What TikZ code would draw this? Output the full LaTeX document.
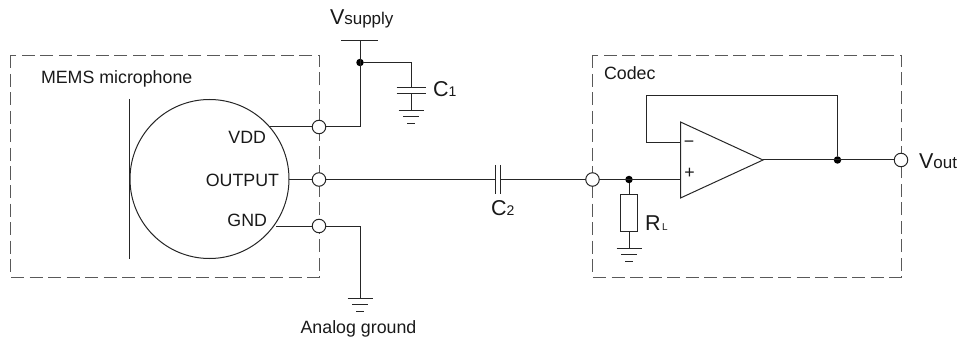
\documentclass[tikz,border=0pt]{standalone}
\usepackage{fontspec}
\setmainfont{Liberation Sans}
\usetikzlibrary{calc}
\newcommand{\gndsym}[1]{%
  \draw[wire] ($(#1)+(-12.5,0)$) -- ($(#1)+(12.5,0)$);
  \draw[wire] ($(#1)+(-8,6.5)$) -- ($(#1)+(8,6.5)$);
  \draw[wire] ($(#1)+(-4,13)$) -- ($(#1)+(4,13)$);
}
\tikzset{
  x=1pt,y=-1pt,
  wire/.style={line width=1pt,draw=black!85},
  boxline/.style={line width=1pt,draw=black!65,dash pattern=on 13pt off 5.5pt},
  pin/.style={circle,draw=black!85,line width=1pt,fill=white,minimum size=13.5pt,inner sep=0pt,outer sep=0pt},
  junction/.style={circle,fill=black,minimum size=7.5pt,inner sep=0pt,outer sep=0pt},
  lbl/.style={inner sep=0pt,outer sep=0pt,text=black!90,font=\fontsize{17.8}{20}\selectfont},
  big/.style={inner sep=0pt,outer sep=0pt,text=black!90,font=\fontsize{21.5}{23}\selectfont},
}
\newcommand{\subA}[1]{{\fontsize{17}{19}\selectfont #1}}
\newcommand{\subB}[1]{{\fontsize{14}{16}\selectfont #1}}
\begin{document}
\begin{tikzpicture}
\useasboundingbox (0,0) rectangle (964,342);
% boxes
\draw[boxline] (10.5,55.5) rectangle (319,277);
\draw[boxline] (592.5,55.5) rectangle (901,277);
% microphone
\node[circle,draw=black!85,line width=1pt,minimum size=159pt,inner sep=0pt,outer sep=0pt] (mic) at (209.5,179) {};
\coordinate (plateA) at (129.5,99);
\coordinate (plateB) at (129.5,259);
\draw[wire] (plateA) -- (plateB);
% anchor coordinates
\coordinate (vddS) at (269,127);
\coordinate (outS) at (289,179.5);
\coordinate (gndS) at (276,226);
\coordinate (vddC) at (360,127);
\coordinate (vtop) at (360,41);
\coordinate (vbarL) at (341,41);
\coordinate (vbarR) at (378,41);
\coordinate (c1T) at (411,62.5);
\coordinate (c1A) at (411,87.5);
\coordinate (c1B) at (411,94);
\coordinate (c1G) at (411,110.5);
\coordinate (gndC) at (360,226);
\coordinate (gnd1) at (360,298);
\coordinate (c2A) at (495.5,179.5);
\coordinate (c2B) at (500.5,179.5);
\coordinate (oa) at (680.5,179.5);
\coordinate (oaB) at (680.5,143);
\coordinate (fbA) at (646,143);
\coordinate (fbB) at (646,95.7);
\coordinate (fbC) at (837.5,95.7);
\coordinate (oaOut) at (763,160);
\coordinate (g3) at (629,248);
% op amp
\draw[wire,line join=miter] (680.5,122) -- (680.5,198) -- (oaOut) -- cycle;
% resistor
\node[rectangle,draw=black!85,line width=1pt,minimum width=17.5pt,minimum height=37pt,inner sep=0pt,outer sep=0pt] (rl) at (629,212.5) {};
% dots
\node[junction] (d1) at (360,62.5) {};
\node[junction] (d2) at (629,179.5) {};
\node[junction] (d3) at (837.5,160) {};
% wires
\draw[wire] (vddS) -- (vddC) -- (vtop);
\draw[wire] (vbarL) -- (vbarR);
\draw[wire] (d1) -- (c1T) -- (c1A);
\draw[wire] ($(c1A)+(-14.5,0)$) -- ($(c1A)+(14.5,0)$);
\draw[wire] ($(c1B)+(-14.5,0)$) -- ($(c1B)+(14.5,0)$);
\draw[wire] (c1B) -- (c1G);
\gndsym{c1G}
\draw[wire] (gndS) -- (gndC) -- (gnd1);
\gndsym{gnd1}
\draw[wire] (outS) -- (c2A);
\draw[wire] ($(c2A)+(0,-14.5)$) -- ($(c2A)+(0,14.5)$);
\draw[wire] ($(c2B)+(0,-14.5)$) -- ($(c2B)+(0,14.5)$);
\draw[wire] (c2B) -- (oa);
\draw[wire] (d2) -- (rl.north);
\draw[wire] (rl.south) -- (g3);
\gndsym{g3}
\draw[wire] (oaOut) -- (901,160);
\draw[wire] (d3) -- (fbC) -- (fbB) -- (fbA) -- (oaB);
% pins
\node[pin] (p1) at (319,127) {};
\node[pin] (p2) at (319,179.5) {};
\node[pin] (p3) at (319,226) {};
\node[pin] (p4) at (592.5,179.5) {};
\node[pin] (p5) at (901,160) {};
% signs
\node[lbl,anchor=center] (minus) at (689,144) {−};
\node[lbl,anchor=center] (plus) at (689.5,173.5) {+};
% labels
\node[lbl,anchor=base west] (mems) at (41,83.5) {MEMS microphone};
\node[lbl,anchor=base east] (vdd) at (266,143) {VDD};
\node[lbl,anchor=base east] (out) at (279,186) {OUTPUT};
\node[lbl,anchor=base east] (gnd) at (267,226.5) {GND};
\node[lbl,anchor=base west] (codec) at (604,80) {Codec};
\node[lbl,anchor=base] (ag) at (358.5,333) {Analog ground};
\node[big,anchor=base west] (vs) at (330,25) {V\subA{supply}};
\node[big,anchor=base west] (c1) at (433,97) {C\subB{1}};
\node[big,anchor=base west] (c2) at (491,215.5) {C\subB{2}};
\node[big,anchor=base west] (rll) at (645,230.5) {R\hspace{1.5pt}{\fontsize{10}{12}\selectfont L}};
\node[big,anchor=base west] (vo) at (919,168) {V\subA{out}};
\end{tikzpicture}
\end{document}
